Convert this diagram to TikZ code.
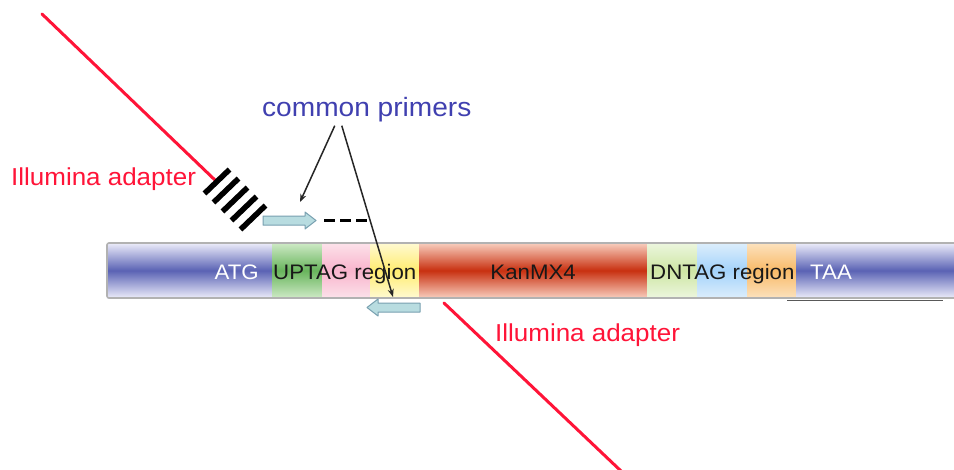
\documentclass[tikz,border=0pt]{standalone}
\usepackage{fontspec}
\setmainfont{Liberation Sans}[FakeStretch=1.06]
\usetikzlibrary{arrows.meta}
\definecolor{adred}{RGB}{255,20,56}
\definecolor{cpblue}{RGB}{64,64,176}
\definecolor{primfill}{RGB}{184,220,224}
\definecolor{primline}{RGB}{120,160,176}
\definecolor{bartext}{RGB}{24,24,24}
\definecolor{bluemid}{RGB}{90,98,180}\definecolor{blueedge}{RGB}{236,236,250}
\definecolor{greenmid}{RGB}{104,180,92}\definecolor{greenedge}{RGB}{206,234,198}
\definecolor{pinkmid}{RGB}{248,180,204}\definecolor{pinkedge}{RGB}{252,226,234}
\definecolor{yelmid}{RGB}{255,236,112}\definecolor{yeledge}{RGB}{255,250,210}
\definecolor{redmid}{RGB}{200,48,16}\definecolor{rededge}{RGB}{248,206,190}
\definecolor{lgmid}{RGB}{206,230,164}\definecolor{lgedge}{RGB}{236,246,222}
\definecolor{lbmid}{RGB}{164,210,250}\definecolor{lbedge}{RGB}{220,238,252}
\definecolor{ormid}{RGB}{248,186,104}\definecolor{oredge}{RGB}{252,226,190}
\tikzset{
  adapter/.style={draw=adred, line width=3pt, line cap=round},
  stripe/.style={draw=black, line width=5.5pt},
  primer/.style={draw=primline, fill=primfill, line width=1pt, line join=round},
  pointer/.style={draw=black!85, line width=1.5pt, -{Stealth[length=8pt,width=6pt]}},
  redlabel/.style={text=adred, inner sep=0pt, font=\fontsize{24.5}{28}\selectfont},
  bluelabel/.style={text=cpblue, inner sep=0pt, font=\fontsize{26.5}{30}\selectfont},
  barlabel/.style={inner sep=0pt, font=\fontsize{21}{24}\selectfont},
  seg/.style={top color=#1edge, bottom color=#1edge, middle color=#1mid}
}
\begin{document}
\begin{tikzpicture}[x=1pt,y=-1pt]
\useasboundingbox (0,0) rectangle (954,469);
\fill[white] (0,0) rectangle (954,469);

% bar segments
\shade[seg=blue] (107,243) rectangle (272,298);
\shade[seg=green] (272,243) rectangle (322,298);
\shade[seg=pink] (322,243) rectangle (370,298);
\shade[seg=yel] (370,243) rectangle (419,298);
\shade[seg=red] (419,243) rectangle (647,298);
\shade[seg=lg] (647,243) rectangle (697,298);
\shade[seg=lb] (697,243) rectangle (747,298);
\shade[seg=or] (747,243) rectangle (796,298);
\shade[seg=blue] (796,243) rectangle (954,298);
\draw[draw=black!30, line width=1.6pt, rounded corners=2pt] (954,243) -- (107,243) -- (107,298) -- (954,298);
\draw[draw=black!65, line width=1.6pt] (787,300.5) -- (943,300.5);

% bar labels
\node[barlabel, text=white, anchor=base east] (atg) at (259,279) {ATG};
\node[barlabel, text=bartext, anchor=base west] (uptag) at (273,279) {UPTAG region};
\node[barlabel, text=bartext, anchor=base east] (kan) at (576,279) {KanMX4};
\node[barlabel, text=bartext, anchor=base west] (dntag) at (650,279) {DNTAG region};
\node[barlabel, text=white, anchor=base west] (taa) at (810,279) {TAA};

% upper adapter
\coordinate (adTopStart) at (42,14);
\coordinate (adTopEnd) at (216,181);
\draw[adapter] (adTopStart) -- (adTopEnd);
\foreach \i in {0,...,4} {
  \draw[stripe] ({229.5+9*\i},{169.5+9*\i}) -- ({204.5+9*\i},{193.5+9*\i});
}
\node[redlabel, anchor=base west] (ilTop) at (11,185) {Illumina adapter};

% forward primer
\path[primer] (263,216) -- (305,216) -- (305,212) -- (316,220.5) -- (305,229) -- (305,225) -- (263,225) -- cycle;
\coordinate (fp) at (300,202);
\draw[draw=black, line width=3.5pt, dash pattern=on 11pt off 5pt] (324,220.5) -- (368,220.5);

% reverse primer
\path[primer] (420,303) -- (378,303) -- (378,299) -- (367,307.5) -- (378,316) -- (378,312) -- (420,312) -- cycle;
\coordinate (rp) at (393,297);

% lower adapter
\coordinate (adBotStart) at (444,303);
\coordinate (adBotEnd) at (621,471);
\draw[adapter] (adBotStart) -- (adBotEnd);
\node[redlabel, anchor=base west] (ilBot) at (495,341) {Illumina adapter};

% common primers
\node[bluelabel, anchor=base west] (cp) at (262,116) {common primers};
\draw[pointer] ([xshift=-32pt,yshift=-4pt]cp.south) -- (fp);
\draw[pointer] ([xshift=-25pt,yshift=-4pt]cp.south) -- (rp);
\end{tikzpicture}
\end{document}
